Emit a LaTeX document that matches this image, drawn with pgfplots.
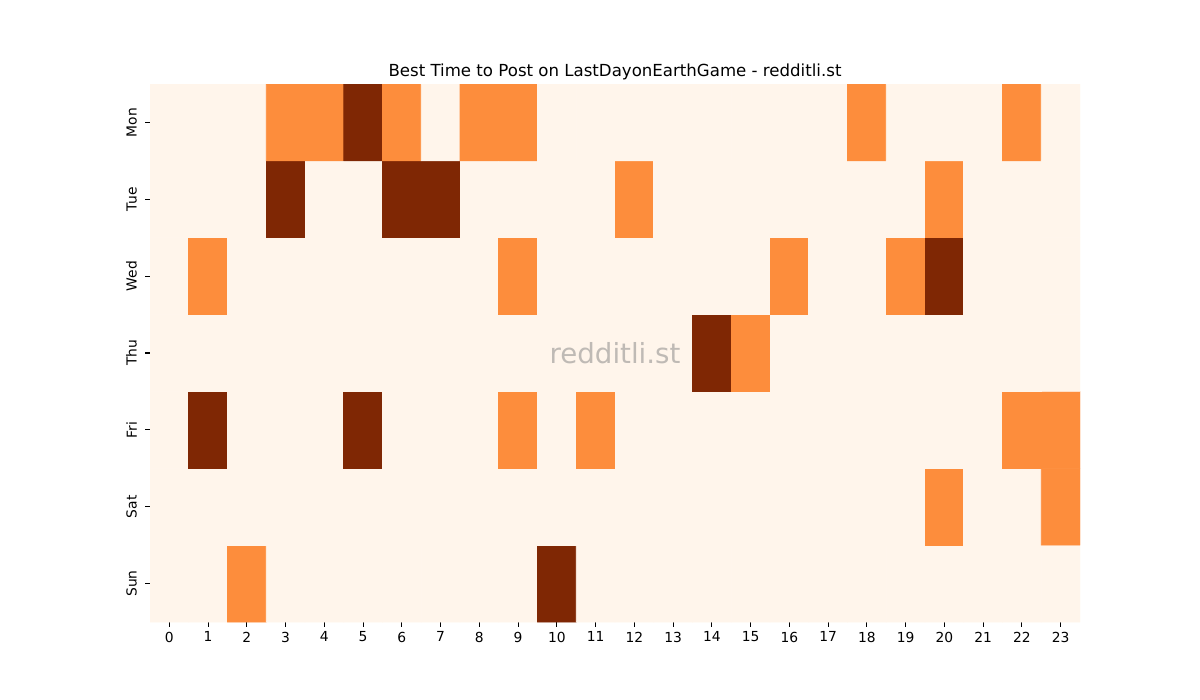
\documentclass[border=0pt]{standalone}
\usepackage{pgfplots}
\pgfplotsset{compat=1.18}
\usepackage{fontspec}
\setmainfont{DejaVu Sans}
\begin{document}
\begin{tikzpicture}
\begin{axis}[name=ax, scale only axis, width=9.3in, height=5.38in,
  xmin=-0.5, xmax=23.5, ymin=-0.5, ymax=6.5,
  axis line style={draw=none},
  xtick={0,...,23}, ytick={0,...,6},
  yticklabels={Sun,Sat,Fri,Thu,Wed,Tue,Mon},
  yticklabel style={xshift=-2.5pt, rotate=90, anchor=south},
  tick align=outside, major tick length=3.5pt,
  tick style={black, line width=0.8pt},
  xtick pos=left, ytick pos=left,
  tick label style={font=\fontsize{10}{12}\selectfont},
  /pgf/number format/assume math mode=true,
  colormap={oranges}{rgb255=(255,245,235) rgb255=(253,141,60) rgb255=(127,39,4)},
  point meta min=0, point meta max=2,
  title={Best Time to Post on LastDayonEarthGame - redditli.st},
  title style={font=\fontsize{12}{14}\selectfont, yshift=-6.5pt},
]
\addplot[matrix plot*, mesh/cols=24, point meta=explicit] coordinates {
(0,0)[0] (1,0)[0] (2,0)[1] (3,0)[0] (4,0)[0] (5,0)[0] (6,0)[0] (7,0)[0] (8,0)[0] (9,0)[0] (10,0)[2] (11,0)[0] (12,0)[0] (13,0)[0] (14,0)[0] (15,0)[0] (16,0)[0] (17,0)[0] (18,0)[0] (19,0)[0] (20,0)[0] (21,0)[0] (22,0)[0] (23,0)[0]

(0,1)[0] (1,1)[0] (2,1)[0] (3,1)[0] (4,1)[0] (5,1)[0] (6,1)[0] (7,1)[0] (8,1)[0] (9,1)[0] (10,1)[0] (11,1)[0] (12,1)[0] (13,1)[0] (14,1)[0] (15,1)[0] (16,1)[0] (17,1)[0] (18,1)[0] (19,1)[0] (20,1)[1] (21,1)[0] (22,1)[0] (23,1)[1]

(0,2)[0] (1,2)[2] (2,2)[0] (3,2)[0] (4,2)[0] (5,2)[2] (6,2)[0] (7,2)[0] (8,2)[0] (9,2)[1] (10,2)[0] (11,2)[1] (12,2)[0] (13,2)[0] (14,2)[0] (15,2)[0] (16,2)[0] (17,2)[0] (18,2)[0] (19,2)[0] (20,2)[0] (21,2)[0] (22,2)[1] (23,2)[1]

(0,3)[0] (1,3)[0] (2,3)[0] (3,3)[0] (4,3)[0] (5,3)[0] (6,3)[0] (7,3)[0] (8,3)[0] (9,3)[0] (10,3)[0] (11,3)[0] (12,3)[0] (13,3)[0] (14,3)[2] (15,3)[1] (16,3)[0] (17,3)[0] (18,3)[0] (19,3)[0] (20,3)[0] (21,3)[0] (22,3)[0] (23,3)[0]

(0,4)[0] (1,4)[1] (2,4)[0] (3,4)[0] (4,4)[0] (5,4)[0] (6,4)[0] (7,4)[0] (8,4)[0] (9,4)[1] (10,4)[0] (11,4)[0] (12,4)[0] (13,4)[0] (14,4)[0] (15,4)[0] (16,4)[1] (17,4)[0] (18,4)[0] (19,4)[1] (20,4)[2] (21,4)[0] (22,4)[0] (23,4)[0]

(0,5)[0] (1,5)[0] (2,5)[0] (3,5)[2] (4,5)[0] (5,5)[0] (6,5)[2] (7,5)[2] (8,5)[0] (9,5)[0] (10,5)[0] (11,5)[0] (12,5)[1] (13,5)[0] (14,5)[0] (15,5)[0] (16,5)[0] (17,5)[0] (18,5)[0] (19,5)[0] (20,5)[1] (21,5)[0] (22,5)[0] (23,5)[0]

(0,6)[0] (1,6)[0] (2,6)[0] (3,6)[1] (4,6)[1] (5,6)[2] (6,6)[1] (7,6)[0] (8,6)[1] (9,6)[1] (10,6)[0] (11,6)[0] (12,6)[0] (13,6)[0] (14,6)[0] (15,6)[0] (16,6)[0] (17,6)[0] (18,6)[1] (19,6)[0] (20,6)[0] (21,6)[0] (22,6)[1] (23,6)[0]
};
\node[text=gray, opacity=0.5, font=\fontsize{20}{24}\selectfont] at (rel axis cs:0.5,0.5) {redditli.st};
\end{axis}
\path[use as bounding box] (ax.south west) ++(-1.5in,-0.78in) rectangle ++(12in,7in);
\end{tikzpicture}
\end{document}
